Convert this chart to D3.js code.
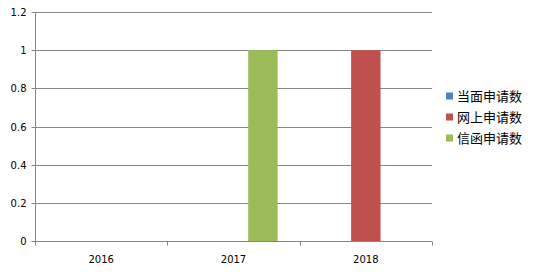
<!DOCTYPE html>
<html><head><meta charset="utf-8">
<script src="https://cdn.jsdelivr.net/npm/d3@7"></script>
<style>body{margin:0;background:#fff}</style>
</head><body>
<svg id="c" width="542" height="272"></svg>
<script>
const categories = ["2016", "2017", "2018"];
const seriesNames = ["当面申请数", "网上申请数", "信函申请数"];
const faceValues = [0, 0, 0];
const onlineValues = [0, 0, 1];
const letterValues = [0, 1, 0];
const yTicks = [0, 0.2, 0.4, 0.6, 0.8, 1, 1.2];
const colors = ["#4F81BD", "#C0504D", "#9BBB59"];

const seriesValues = [faceValues, onlineValues, letterValues];
const svg = d3.select("#c");
const mLeft = 35, mRight = 432, mTop = 12, mBottom = 241;

const x0 = d3.scaleBand().domain(categories).range([mLeft, mRight]).padding(0);
const bw = x0.bandwidth();
const x1 = d3.scaleBand().domain(seriesNames).range([bw / 6, bw * 5 / 6]).padding(0);
const y = d3.scaleLinear().domain([0, 1.2]).range([mBottom, mTop]);

// gridlines
svg.append("g").selectAll("line").data(yTicks.filter(d => d > 0)).join("line")
  .attr("x1", mLeft).attr("x2", mRight)
  .attr("y1", d => Math.round(y(d)) + 0.5).attr("y2", d => Math.round(y(d)) + 0.5)
  .attr("stroke", "#868686").attr("stroke-width", 1);

// bars
const rows = [];
categories.forEach((c, i) => seriesNames.forEach((s, j) => rows.push({c, s, v: seriesValues[j][i], color: colors[j]})));
svg.append("g").selectAll("rect").data(rows.filter(d => d.v > 0)).join("rect")
  .attr("x", d => x0(d.c) + x1(d.s))
  .attr("width", x1.bandwidth())
  .attr("y", d => y(d.v))
  .attr("height", d => y(0) - y(d.v))
  .attr("fill", d => d.color);

// y axis
const yAxis = d3.axisLeft(y).tickValues(yTicks).tickFormat(d => String(d)).tickSize(4).tickPadding(5);
const gy = svg.append("g").attr("transform", `translate(${mLeft + 0.5},0)`).call(yAxis);
gy.selectAll(".tick").attr("transform", d => `translate(0,${Math.round(y(d)) + 0.5})`);
gy.select(".domain").attr("stroke", "#868686").attr("d", `M0,${mTop}V${mBottom + 0.5}`);
gy.selectAll(".tick line").attr("stroke", "#868686");
gy.selectAll("text").attr("font-family", "DejaVu Sans, sans-serif").attr("font-size", 10).attr("fill", "#000");

// x axis
const xAxis = d3.axisBottom(x0).tickSize(0).tickPadding(14);
const gx = svg.append("g").attr("transform", `translate(0,${mBottom + 0.5})`).call(xAxis);
gx.select(".domain").attr("stroke", "#868686").attr("d", `M${mLeft},0H${mRight}`);
gx.selectAll("text").attr("font-family", "DejaVu Sans, sans-serif").attr("font-size", 10).attr("fill", "#000");
gx.selectAll(".xt").data(categories.concat(["end"])).join("line").attr("class", "xt")
  .attr("x1", (d, i) => Math.round(i < categories.length ? x0(d) : mRight) + 0.5)
  .attr("x2", (d, i) => Math.round(i < categories.length ? x0(d) : mRight) + 0.5)
  .attr("y1", 0).attr("y2", 4).attr("stroke", "#868686");

// legend
const lg = svg.append("g").attr("transform", "translate(446,96)");
const items = lg.selectAll("g").data(seriesNames).join("g").attr("transform", (d, i) => `translate(0,${i * 21})`);
items.append("rect").attr("x", 0).attr("y", -3.5).attr("width", 7).attr("height", 7).attr("fill", (d, i) => colors[i]);
items.append("text").attr("x", 11).attr("y", 0).attr("dy", "0.36em")
  .attr("font-family", "Noto Sans CJK SC, sans-serif").attr("font-size", 13).attr("fill", "#000").text(d => d);
</script>
</body></html>
